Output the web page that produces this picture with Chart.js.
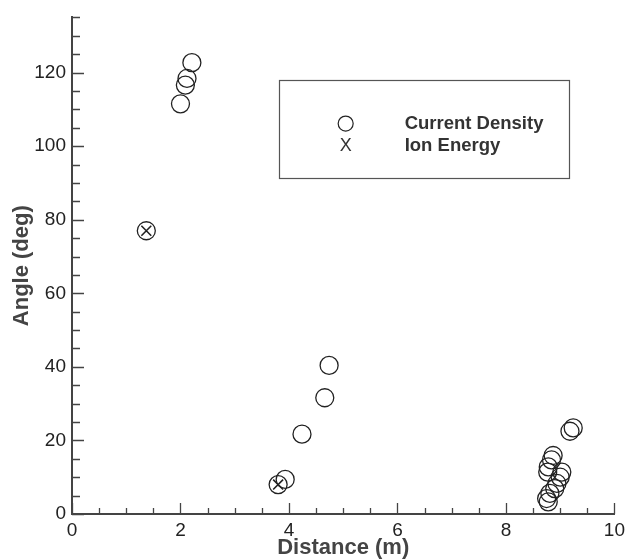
<!DOCTYPE html>
<html>
<head>
<meta charset="utf-8">
<script src="https://cdn.jsdelivr.net/npm/chart.js@4/dist/chart.umd.min.js"></script>
<style>
  html, body { margin: 0; padding: 0; background: #fff; }
  #wrap { width: 630px; height: 559px; position: relative; }
</style>
</head>
<body>
<div id="wrap"><canvas id="chart"></canvas></div>
<script>
// Current Density points (distance in m, angle in deg)
const densityX = [1.37, 2.00, 2.09, 2.12, 2.21, 3.80, 3.93, 4.24, 4.66, 4.74,
                  8.75, 8.78, 8.81, 8.90, 8.94, 9.00, 9.03, 8.77, 8.78, 8.84, 8.87, 9.18, 9.24];
const densityY = [77.0, 111.5, 116.6, 118.4, 122.7, 8.0, 9.4, 21.7, 31.6, 40.4,
                  4.2, 3.3, 5.6, 6.9, 8.3, 10.0, 11.4, 11.4, 12.8, 14.7, 15.9, 22.5, 23.4];

// Ion Energy points
const energyX = [1.37, 3.80];
const energyY = [77.0, 8.0];

const xTicks = [0, 2, 4, 6, 8, 10];
const yTicks = [0, 20, 40, 60, 80, 100, 120];
const legendLabels = ['Current Density', 'Ion Energy'];

const ink = '#222';
const axisColor = '#444';
const fontFamily = '"Liberation Sans", Arial, sans-serif';

function toPoints(xs, ys) {
  return xs.map(function (x, i) { return {x: x, y: ys[i]}; });
}

// inward tick marks + in-plot legend box
const decorPlugin = {
  id: 'decor',
  afterDraw: function (chart) {
    const ctx = chart.ctx;
    const xs = chart.scales.x;
    const ys = chart.scales.y;
    const area = chart.chartArea;

    ctx.save();
    ctx.strokeStyle = axisColor;
    ctx.lineWidth = 1.3;
    ctx.beginPath();
    for (let v = 0; v <= 10.001; v += 0.5) {
      const px = Math.round(xs.getPixelForValue(v)) + 0.5;
      const len = (Math.abs(v % 2) < 0.01) ? 11 : 6;
      ctx.moveTo(px, area.bottom);
      ctx.lineTo(px, area.bottom - len);
    }
    for (let v = 0; v <= 135.001; v += 5) {
      const py = Math.round(ys.getPixelForValue(v)) + 0.5;
      const len = (v % 20 === 0) ? 12 : 8;
      ctx.moveTo(area.left, py);
      ctx.lineTo(area.left + len, py);
    }
    ctx.stroke();

    // legend box
    const bx = xs.getPixelForValue(3.81);
    const bx2 = xs.getPixelForValue(9.16);
    const by = ys.getPixelForValue(118.1);
    const by2 = ys.getPixelForValue(91.4);
    ctx.strokeStyle = '#555';
    ctx.lineWidth = 1.2;
    ctx.strokeRect(Math.round(bx) + 0.5, Math.round(by) + 0.5, Math.round(bx2 - bx), Math.round(by2 - by));

    const symX = bx + 67;
    const row1 = by + 44;
    const row2 = by + 66;
    ctx.strokeStyle = ink;
    ctx.lineWidth = 1.2;
    ctx.beginPath();
    ctx.arc(symX, row1, 7.5, 0, Math.PI * 2);
    ctx.stroke();

    ctx.fillStyle = '#333';
    ctx.textBaseline = 'middle';
    ctx.textAlign = 'center';
    ctx.font = '18px ' + fontFamily;
    ctx.fillText('X', symX, row2);
    ctx.font = 'bold 18.5px ' + fontFamily;
    ctx.textAlign = 'left';
    ctx.fillText(legendLabels[0], bx + 126, row1);
    ctx.fillText(legendLabels[1], bx + 126, row2);
    ctx.restore();
  }
};

const config = {
  type: 'scatter',
  data: {
    datasets: [{
      label: legendLabels[0],
      data: toPoints(densityX, densityY),
      pointStyle: 'circle',
      pointRadius: 9,
      pointBorderWidth: 1.3,
      borderColor: ink,
      backgroundColor: 'rgba(0,0,0,0)'
    }, {
      label: legendLabels[1],
      data: toPoints(energyX, energyY),
      pointStyle: 'crossRot',
      pointRadius: 7,
      pointBorderWidth: 1.6,
      borderColor: ink,
      backgroundColor: ink
    }]
  },
  options: {
    responsive: true,
    maintainAspectRatio: false,
    animation: false,
    events: [],
    layout: {
      padding: {top: 13, right: 10, left: 0, bottom: 0}
    },
    plugins: {
      legend: {display: false},
      tooltip: {enabled: false}
    },
    scales: {
      x: {
        type: 'linear',
        min: 0,
        max: 10,
        afterBuildTicks: function (scale) {
          scale.ticks = xTicks.map(function (v) { return {value: v}; });
        },
        afterFit: function (scale) { scale.height = 45; },
        grid: {display: false, drawTicks: false},
        border: {display: true, color: axisColor, width: 2},
        ticks: {
          padding: 5,
          color: '#222',
          font: {family: fontFamily, size: 19}
        },
        title: {
          display: true,
          text: 'Distance (m)',
          color: '#444',
          padding: {top: 0, bottom: 0},
          font: {family: fontFamily, size: 22, weight: 'bold', lineHeight: 1}
        }
      },
      y: {
        type: 'linear',
        min: 0,
        max: 135,
        afterBuildTicks: function (scale) {
          scale.ticks = yTicks.map(function (v) { return {value: v}; });
        },
        afterFit: function (scale) { scale.width = 72; },
        grid: {display: false, drawTicks: false},
        border: {display: true, color: axisColor, width: 2},
        ticks: {
          padding: 6,
          color: '#222',
          font: {family: fontFamily, size: 19}
        },
        title: {
          display: true,
          text: 'Angle (deg)',
          color: '#444',
          padding: {top: 11, bottom: 0},
          font: {family: fontFamily, size: 22, weight: 'bold', lineHeight: 1}
        }
      }
    }
  },
  plugins: [decorPlugin]
};

new Chart(document.getElementById('chart'), config);
</script>
</body>
</html>
